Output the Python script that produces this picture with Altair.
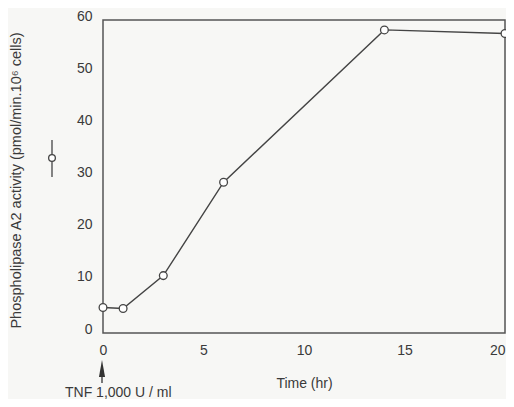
import altair as alt
import pandas as pd

time_hr = [0, 1, 3, 6, 14, 20]
activity = [4.9, 4.7, 11.0, 28.9, 58.1, 57.4]
x_ticks = [0, 5, 10, 15, 20]
y_ticks = [0, 10, 20, 30, 40, 50, 60]

df = pd.DataFrame({"t": time_hr, "a": activity})

W, H = 402, 313
FONT = "Liberation Sans"
INK = "#3a3a3a"

xs = alt.Scale(domain=[0, 20], nice=False)
ys = alt.Scale(domain=[0, 60], nice=False)

base = alt.Chart(df)

line = base.mark_line(color="#444", strokeWidth=1.4, clip=False).encode(
    x=alt.X("t:Q", scale=xs, axis=alt.Axis(
        values=x_ticks, title="Time (hr)", ticks=False, domain=False, grid=False,
        labelFlush=False, labelOverlap=False,
        labelAlign={"condition": {"test": "datum.value >= 20", "value": "right"},
                    "value": "center"},
        labelPadding=10, labelFontSize=14, labelColor=INK, labelFont=FONT,
        titleFontSize=14, titleFont=FONT, titleColor=INK, titleFontWeight="normal",
        titlePadding=19)),
    y=alt.Y("a:Q", scale=ys, axis=alt.Axis(
        values=y_ticks, title="Phospholipase A2 activity  (pmol/min.10\u2076 cells)",
        ticks=False, domain=False, grid=False, labelFlush=False, labelOverlap=False,
        labelPadding=11, labelOffset=-4,
        labelFontSize=14, labelColor=INK, labelFont=FONT,
        titleFontSize=14.5, titleFont=FONT, titleColor=INK, titleFontWeight="normal",
        titleX=-80, titleY=160)),
)

pts = base.mark_point(shape="circle", filled=True, fill="white", stroke="#444",
                      strokeWidth=1.3, size=60, opacity=1, clip=False).encode(
    x=alt.X("t:Q", scale=xs), y=alt.Y("a:Q", scale=ys))

ann = pd.DataFrame({"k": [1]})
a = alt.Chart(ann)

# legend symbol (vertical line with circle)
leg_line = a.mark_rule(color="#444", strokeWidth=1.3).encode(
    x=alt.value(-51), y=alt.value(120), y2=alt.value(157))
leg_pt = a.mark_point(shape="circle", filled=True, fill="white", stroke="#444",
                      strokeWidth=1.3, size=45, opacity=1).encode(
    x=alt.value(-51), y=alt.value(138))

# arrow
arrow_shaft = a.mark_rule(color="#333", strokeWidth=1.3).encode(
    x=alt.value(-1), y=alt.value(350), y2=alt.value(363))
arrow_head = a.mark_point(shape="M0,-1L0.36,1L-0.36,1Z", filled=True, color="#333",
                          size=289, opacity=1).encode(
    x=alt.value(-1), y=alt.value(348.5))
tnf = a.mark_text(text="TNF 1,000 U / ml", align="left", baseline="alphabetic",
                  font=FONT, fontSize=14, color=INK).encode(
    x=alt.value(-38), y=alt.value(377))

chart = alt.layer(line, pts, leg_line, leg_pt, arrow_shaft, arrow_head, tnf).properties(
    width=W, height=H,
    autosize=alt.AutoSizeParams(type="none"),
    padding={"left": 95, "top": 12, "right": 1, "bottom": 66},
    background="#f7f7f5",
).configure_view(stroke="#555", strokeWidth=1.5)

chart.save("out.html", embed_options={"renderer": "svg", "actions": False})
